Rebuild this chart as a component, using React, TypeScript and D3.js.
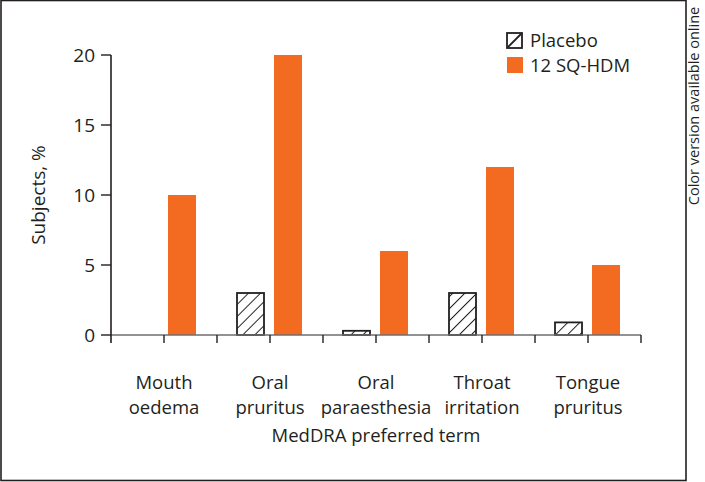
import React from "react";
import { scaleBand, scaleLinear } from "d3";

// Datos del gráfico
const categories = [
  ["Mouth", "oedema"],
  ["Oral", "pruritus"],
  ["Oral", "paraesthesia"],
  ["Throat", "irritation"],
  ["Tongue", "pruritus"],
];
const placebo = [0, 3, 0.3, 3, 0.9];
const hdm = [10, 20, 6, 12, 5];
const yTicks = [0, 5, 10, 15, 20];
const seriesNames = ["Placebo", "12 SQ-HDM"];

const W = 705;
const H = 482;
const FONT = "'Open Sans', 'Noto Sans', sans-serif";
const ORANGE = "#f26b21";
const INK = "#231f20";

const App: React.FC = () => {
  const keys = categories.map((c) => c.join(" "));
  const x = scaleBand<string>().domain(keys).range([111, 641]).padding(0);
  const y = scaleLinear().domain([0, 20]).range([335, 55]);
  const barW = 27;

  const xTicks: number[] = [];
  keys.forEach((k, i) => {
    const x0 = x(k)!;
    if (i > 0) xTicks.push(x0);
    xTicks.push(x0 + x.bandwidth() / 2);
  });
  xTicks.push(x.range()[1]);

  return (
    <svg
      width={W}
      height={H}
      style={{ position: "absolute", left: 0, top: 0, background: "#fff" }}
      fontFamily={FONT}
    >
      <defs>
        <pattern
          id="hatch"
          patternUnits="userSpaceOnUse"
          width={8.5}
          height={8.5}
          patternTransform="rotate(45)"
        >
          <line x1={0} y1={0} x2={0} y2={8.5} stroke={INK} strokeWidth={2} />
        </pattern>
      </defs>

      {/* Marco */}
      <rect x={1} y={0.5} width={685} height={480} fill="none" stroke={INK} strokeWidth={1.6} />

      {/* Barras */}
      {keys.map((k, i) => {
        const cx = x(k)! + x.bandwidth() / 2;
        return (
          <g key={k}>
            {placebo[i] > 0 && (
              <rect
                x={cx - 6 - barW}
                y={y(placebo[i])}
                width={barW}
                height={y(0) - y(placebo[i])}
                fill="url(#hatch)"
                stroke={INK}
                strokeWidth={1.8}
              />
            )}
            <rect
              x={cx + 4}
              y={y(hdm[i])}
              width={barW + 1}
              height={y(0) - y(hdm[i])}
              fill={ORANGE}
            />
          </g>
        );
      })}

      {/* Eje X */}
      <line x1={111} x2={641} y1={y(0)} y2={y(0)} stroke="#6d6e71" strokeWidth={1.6} />
      {xTicks.map((t, i) => (
        <line key={i} x1={t} x2={t} y1={y(0)} y2={y(0) + 8} stroke={INK} strokeWidth={1.4} />
      ))}
      {keys.map((k, i) => {
        const cx = x(k)! + x.bandwidth() / 2;
        return (
          <text key={k} x={cx} textAnchor="middle" fontSize={18.5} fill={INK}>
            <tspan x={cx} y={389}>{categories[i][0]}</tspan>
            <tspan x={cx} y={414}>{categories[i][1]}</tspan>
          </text>
        );
      })}
      <text x={376} y={442} textAnchor="middle" fontSize={18.5} fill={INK}>
        MedDRA preferred term
      </text>

      {/* Eje Y */}
      <line x1={111} x2={111} y1={y(20)} y2={y(0) + 8} stroke={INK} strokeWidth={1.6} />
      {yTicks.map((t) => (
        <g key={t}>
          <line x1={101} x2={111} y1={y(t)} y2={y(t)} stroke={INK} strokeWidth={1.4} />
          <text x={95} y={y(t)} dy="0.35em" textAnchor="end" fontSize={19} fill={INK}>
            {t}
          </text>
        </g>
      ))}
      <text
        transform={`translate(45,${y(10)}) rotate(-90)`}
        textAnchor="middle"
        fontSize={19}
        fill={INK}
      >
        Subjects, %
      </text>

      {/* Leyenda */}
      <g>
        <rect x={507} y={33} width={15} height={15} fill="#fff" stroke={INK} strokeWidth={1.8} />
        <line x1={508} y1={47} x2={521} y2={34} stroke={INK} strokeWidth={1.8} />
        <text x={530} y={40.5} dy="0.35em" fontSize={18.5} fill={INK}>
          {seriesNames[0]}
        </text>
        <rect x={507} y={57} width={16} height={16} fill={ORANGE} />
        <text x={530} y={65.5} dy="0.35em" fontSize={18.5} fill={INK}>
          {seriesNames[1]}
        </text>
      </g>

      {/* Nota lateral */}
      <text
        transform="translate(699,106) rotate(-90)"
        textAnchor="middle"
        fontSize={14.5}
        fill={INK}
      >
        Color version available online
      </text>
    </svg>
  );
};

export default App;
